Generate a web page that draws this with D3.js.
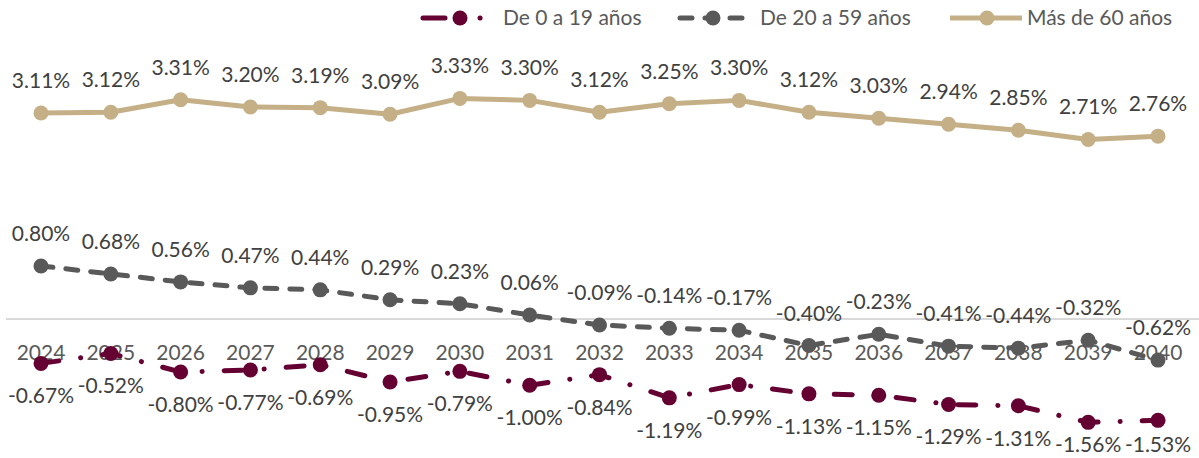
<!DOCTYPE html>
<html lang="es">
<head>
<meta charset="UTF-8">
<script src="https://cdn.jsdelivr.net/npm/d3@7"></script>
<style>
  body { margin: 0; background: #fff; }
  svg text { font-family: Lato, "Open Sans", sans-serif; }
</style>
</head>
<body>
<svg id="chart" width="1199" height="458"></svg>
<script>
// data (percent)
const years = ["2024","2025","2026","2027","2028","2029","2030","2031","2032","2033","2034","2035","2036","2037","2038","2039","2040"];
const age0to19 = [-0.67,-0.52,-0.80,-0.77,-0.69,-0.95,-0.79,-1.00,-0.84,-1.19,-0.99,-1.13,-1.15,-1.29,-1.31,-1.56,-1.53];
const age20to59 = [0.80,0.68,0.56,0.47,0.44,0.29,0.23,0.06,-0.09,-0.14,-0.17,-0.40,-0.23,-0.41,-0.44,-0.32,-0.62];
const age60plus = [3.11,3.12,3.31,3.20,3.19,3.09,3.33,3.30,3.12,3.25,3.30,3.12,3.03,2.94,2.85,2.71,2.76];
const seriesNames = ["De 0 a 19 años","De 20 a 59 años","Más de 60 años"];

const svg = d3.select('#chart');
const x = d3.scalePoint().domain(years).range([41, 1158]);
const y = d3.scaleLinear().domain([-2, 4]).range([451.5, 54]);

const styles = [
  { color: '#640032', dash: '18,22,0.1,22', cap: 'round', labelDy: 40 },
  { color: '#595959', dash: '12,13', cap: 'round', labelDy: -25 },
  { color: '#C5AF86', dash: null, cap: 'butt', labelDy: -25 }
];
const allSeries = [age0to19, age20to59, age60plus];

// zero line
svg.append('line')
  .attr('x1', 6).attr('x2', 1199)
  .attr('y1', y(0)).attr('y2', y(0))
  .attr('stroke', '#D9D9D9').attr('stroke-width', 2);

// category labels sit at the zero line
svg.append('g').selectAll('text')
  .data(years).enter().append('text')
  .attr('x', d => x(d)).attr('y', y(0) + 41)
  .attr('text-anchor', 'middle')
  .attr('font-size', 21).attr('fill', '#595959')
  .text(d => d);

const line = d3.line().x((d, i) => x(years[i])).y(d => y(d));

allSeries.forEach((vals, k) => {
  const st = styles[k];
  const g = svg.append('g');
  g.append('path')
    .attr('d', line(vals))
    .attr('fill', 'none')
    .attr('stroke', st.color)
    .attr('stroke-width', 5)
    .attr('stroke-linecap', st.cap)
    .attr('stroke-linejoin', 'round')
    .attr('stroke-dasharray', st.dash);
  g.selectAll('circle').data(vals).enter().append('circle')
    .attr('cx', (d, i) => x(years[i])).attr('cy', d => y(d))
    .attr('r', 7.5).attr('fill', st.color);
});

// data labels on top of the lines (kept inside the bottom edge, like excel does)
allSeries.forEach((vals, k) => {
  const st = styles[k];
  svg.append('g').selectAll('text').data(vals).enter().append('text')
    .attr('x', (d, i) => x(years[i]))
    .attr('y', d => Math.min(y(d) + st.labelDy, 452))
    .attr('text-anchor', 'middle')
    .attr('font-size', 21).attr('fill', '#404040')
    .text(d => d.toFixed(2) + '%');
});

// legend
const legendItems = [
  { x0: 423, x1: 495, mx: 460, tx: 503 },
  { x0: 680, x1: 747, mx: 713, tx: 760 },
  { x0: 950, x1: 1022, mx: 987, tx: 1027 }
];
const legend = svg.append('g');
legendItems.forEach((it, k) => {
  const st = styles[k];
  legend.append('line')
    .attr('x1', it.x0).attr('x2', it.x1).attr('y1', 18).attr('y2', 18)
    .attr('stroke', st.color).attr('stroke-width', 5)
    .attr('stroke-linecap', st.cap)
    .attr('stroke-dasharray', k === 0 ? '22,35,0.1,30' : st.dash);
  legend.append('circle').attr('cx', it.mx).attr('cy', 18).attr('r', 7.5).attr('fill', st.color);
  legend.append('text')
    .attr('x', it.tx).attr('y', 25)
    .attr('font-size', 21).attr('fill', '#595959')
    .text(seriesNames[k]);
});
</script>
</body>
</html>
